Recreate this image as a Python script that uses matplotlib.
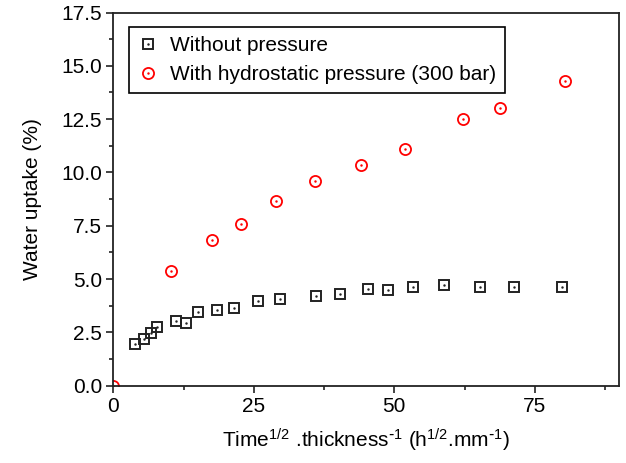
import matplotlib
matplotlib.use('Agg')
import matplotlib.pyplot as plt
from matplotlib.ticker import MultipleLocator, FormatStrFormatter

plt.rcParams['font.family'] = ['Liberation Sans', 'DejaVu Sans']
plt.rcParams['mathtext.default'] = 'regular'

# without pressure
x_sem = [3.9, 5.5, 6.7, 7.8, 11.2, 13.0, 15.0, 18.4, 21.5, 25.8, 29.7,
         36.1, 40.4, 45.4, 48.8, 53.3, 58.9, 65.2, 71.3, 79.9]
y_sem = [1.97, 2.18, 2.49, 2.74, 3.01, 2.96, 3.45, 3.54, 3.64, 3.95, 4.07,
         4.22, 4.31, 4.54, 4.50, 4.62, 4.73, 4.61, 4.61, 4.64]
# with hydrostatic pressure
x_com = [0.0, 10.3, 17.5, 22.8, 29.0, 35.9, 44.0, 51.9, 62.3, 68.8, 80.4]
y_com = [0.0, 5.36, 6.85, 7.58, 8.68, 9.62, 10.34, 11.08, 12.50, 13.02, 14.27]

preto = '#222222'
verm = '#ff0000'

fig = plt.figure(figsize=(6.26, 4.63), dpi=100)
ax = fig.add_axes([0.181, 0.167, 0.808, 0.806])

q1, = ax.plot(x_sem, y_sem, ls='none', marker='s', ms=7.5, mfc='none',
              mec=preto, mew=1.4)
q2, = ax.plot(x_sem, y_sem, ls='none', marker='.', ms=1.5, color=preto)
c1, = ax.plot(x_com, y_com, ls='none', marker='o', ms=8, mfc='none',
              mec=verm, mew=1.3)
c2, = ax.plot(x_com, y_com, ls='none', marker='.', ms=1.5, color=verm)

ax.set_xlim(0, 90)
ax.set_ylim(0, 17.5)
ax.xaxis.set_major_locator(MultipleLocator(25))
ax.xaxis.set_minor_locator(MultipleLocator(12.5))
ax.yaxis.set_major_locator(MultipleLocator(2.5))
ax.yaxis.set_minor_locator(MultipleLocator(1.25))
ax.yaxis.set_major_formatter(FormatStrFormatter('%.1f'))

for s in ax.spines.values():
    s.set_linewidth(1.3)
    s.set_color('#222222')
ax.tick_params(which='major', direction='out', length=5, width=1.2,
               color='#222222', labelsize=15, pad=3)
ax.tick_params(which='minor', direction='out', length=3, width=1.2,
               color='#222222')

ax.set_xlabel(r'Time$^{1/2}$ .thickness$^{\text{-}1}$ (h$^{1/2}$.mm$^{\text{-}1}$)',
              fontsize=15, labelpad=8)
ax.set_ylabel('Water uptake (%)', fontsize=15, labelpad=14)

leg = ax.legend([(q1, q2), (c1, c2)],
                ['Without pressure', 'With hydrostatic pressure (300 bar)'],
                loc='upper left', bbox_to_anchor=(0.031, 0.961),
                borderaxespad=0, fontsize=15, fancybox=False, framealpha=1,
                handlelength=0.9, handletextpad=0.6, borderpad=0.45,
                labelspacing=0.45)
leg.get_frame().set_edgecolor('black')
leg.get_frame().set_linewidth(1.2)

fig.savefig('out.png', dpi=100)
